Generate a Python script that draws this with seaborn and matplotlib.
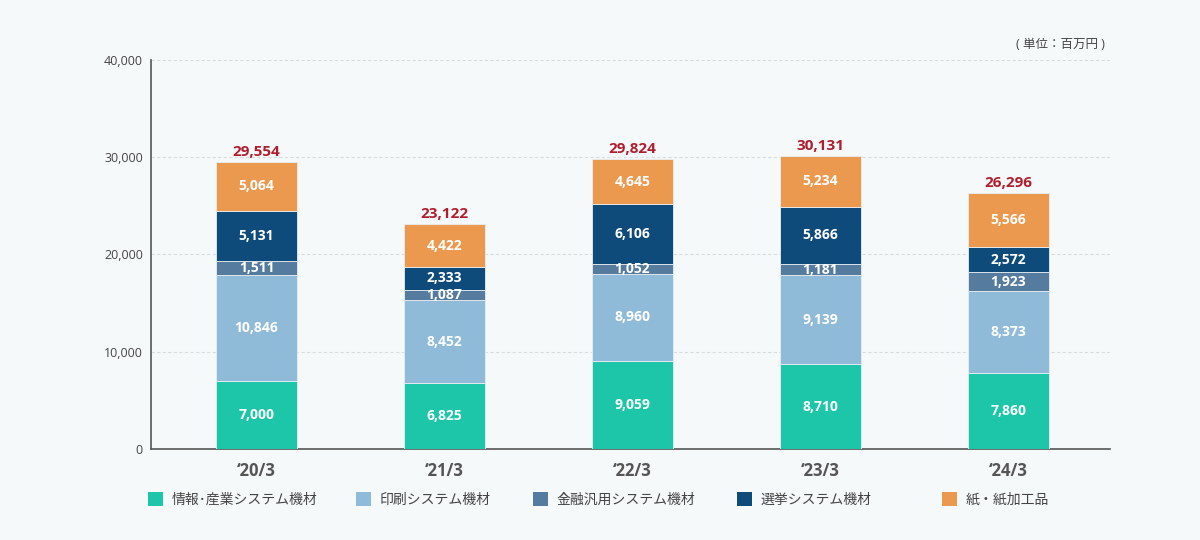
import pandas as pd
import seaborn as sns
import matplotlib.pyplot as plt
from matplotlib.patches import Patch

# Data (百万円)
years = ["\u201820/3", "\u201821/3", "\u201822/3", "\u201823/3", "\u201824/3"]
info_industry = [7000, 6825, 9059, 8710, 7860]
printing = [10846, 8452, 8960, 9139, 8373]
finance = [1511, 1087, 1052, 1181, 1923]
election = [5131, 2333, 6106, 5866, 2572]
paper = [5064, 4422, 4645, 5234, 5566]
totals = [29554, 23122, 29824, 30131, 26296]

series_names = ["情報\uff65産業システム機材", "印刷システム機材", "金融汎用システム機材",
                "選挙システム機材", "紙・紙加工品"]
series_values = [info_industry, printing, finance, election, paper]
colors = ["#1dc6a8", "#8fbbd9", "#557b9e", "#0e4a7a", "#eb994f"]

bg = "#f6f9fa"
sns.set_style("white")
plt.rcParams['font.family'] = ['Open Sans', 'Noto Sans CJK JP', 'DejaVu Sans']

fig = plt.figure(figsize=(12, 5.4), dpi=100, facecolor=bg)
ax = fig.add_axes([0.126, 0.1685, 0.799, 0.7205])
ax.set_facecolor(bg)

# Stacked bars
bottom = [0] * len(years)
for name, vals, col in zip(series_names, series_values, colors):
    df = pd.DataFrame({'year': years, 'amount': vals})
    sns.barplot(x='year', y='amount', data=df, color=col, width=0.43,
                bottom=bottom, edgecolor='#e8eef2', linewidth=0.6,
                saturation=1, ax=ax, zorder=3)
    bottom = [b + v for b, v in zip(bottom, vals)]

for cont, vals in zip(ax.containers, series_values):
    ax.bar_label(cont, labels=[f"{v:,}" for v in vals], label_type='center',
                 color='white', fontsize=10, fontweight='bold')
ax.bar_label(ax.containers[-1], labels=[f"{t:,}" for t in totals], padding=2,
             color='#b01e2e', fontsize=11, fontweight='bold')

# Axes styling
ax.set_xlim(-0.56, 4.54)
ax.set_ylim(0, 40000)
ax.set_yticks([0, 10000, 20000, 30000, 40000])
ax.set_yticklabels(["0", "10,000", "20,000", "30,000", "40,000"])
ax.yaxis.grid(True, color='#d8dcdf', linestyle=(0, (3, 2)), linewidth=0.8, zorder=0)
ax.set_axisbelow(True)
ax.tick_params(axis='y', length=0, labelsize=9, labelcolor='#444444', pad=6)
ax.tick_params(axis='x', length=0, labelsize=12, labelcolor='#555555', pad=9)
for lbl in ax.get_xticklabels():
    lbl.set_fontweight('bold')
ax.set_xlabel("")
ax.set_ylabel("")
sns.despine(ax=ax, top=True, right=True)
ax.spines['left'].set_color('#555555')
ax.spines['bottom'].set_color('#555555')
ax.spines['left'].set_linewidth(1.2)
ax.spines['bottom'].set_linewidth(1.2)

fig.text(1105 / 1200, 1 - 45 / 540, "( 単位：百万円 )", ha='right', va='center',
         fontsize=9, color='#444444')

# Legend, one entry per column position
legend_x = [148, 356, 533, 737, 942]
for name, col, x in zip(series_names, colors, legend_x):
    fig.legend(handles=[Patch(facecolor=col, edgecolor='none')], labels=[name],
               loc='center left', bbox_to_anchor=(x / 1200, 1 - 500 / 540),
               frameon=False, borderpad=0, borderaxespad=0, handletextpad=0.6,
               handlelength=1.1, handleheight=1.1, fontsize=10, labelcolor='#444444')

plt.savefig("out.png", facecolor=bg)
